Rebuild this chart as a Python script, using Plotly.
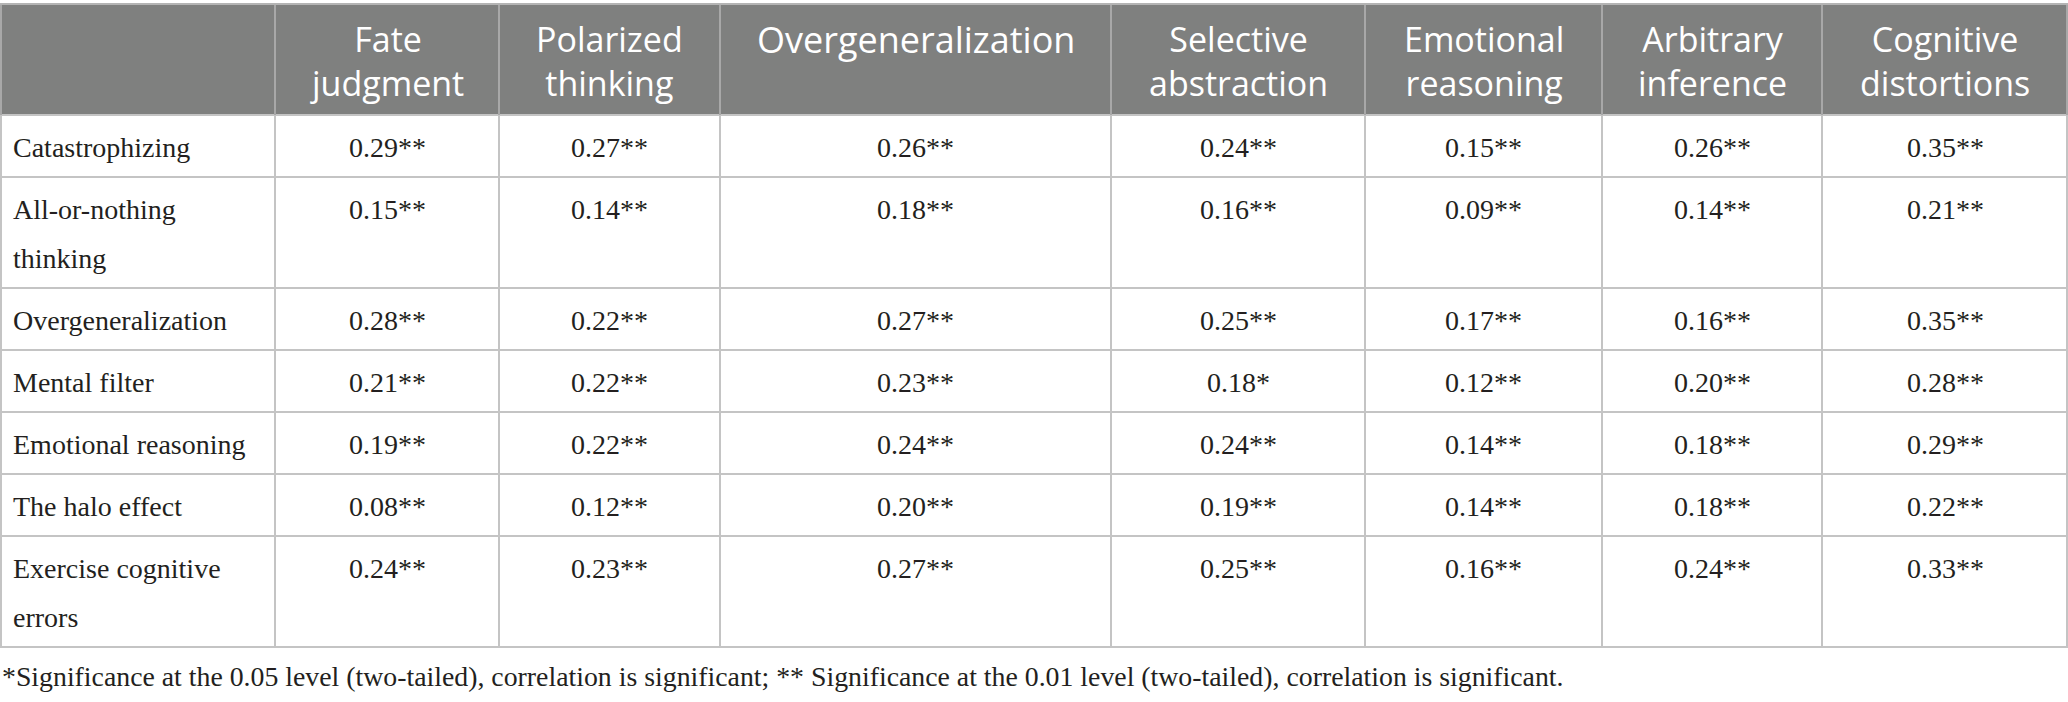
import plotly.graph_objects as go

# table content
columns = ["Fate<br>judgment", "Polarized<br>thinking", "Overgeneralization",
           "Selective<br>abstraction", "Emotional<br>reasoning",
           "Arbitrary<br>inference", "Cognitive<br>distortions"]
rows = ["Catastrophizing", "All-or-nothing<br>thinking", "Overgeneralization",
        "Mental filter", "Emotional reasoning", "The halo effect",
        "Exercise cognitive<br>errors"]

catastrophizing = [0.29, 0.27, 0.26, 0.24, 0.15, 0.26, 0.35]
all_or_nothing = [0.15, 0.14, 0.18, 0.16, 0.09, 0.14, 0.21]
overgeneralization = [0.28, 0.22, 0.27, 0.25, 0.17, 0.16, 0.35]
mental_filter = [0.21, 0.22, 0.23, 0.18, 0.12, 0.20, 0.28]
emotional_reasoning = [0.19, 0.22, 0.24, 0.24, 0.14, 0.18, 0.29]
halo_effect = [0.08, 0.12, 0.20, 0.19, 0.14, 0.18, 0.22]
exercise_errors = [0.24, 0.23, 0.27, 0.25, 0.16, 0.24, 0.33]
values = [catastrophizing, all_or_nothing, overgeneralization, mental_filter,
          emotional_reasoning, halo_effect, exercise_errors]

# significance stars ("**" unless noted)
stars = [["**"] * 7 for _ in rows]
stars[3][3] = "*"

footnote = ("*Significance at the 0.05 level (two-tailed), correlation is significant; "
            "** Significance at the 0.01 level (two-tailed), correlation is significant.")

# layout geometry (pixels)
W, H = 2068, 702
col_edges = [0, 275, 499, 720, 1111, 1365, 1602, 1822, 2068]
head_top, head_bot = 5, 115
row_h, line_h = 62, 49

BODY_FONT = "Liberation Serif"
HEAD_FONT = "Open Sans"
body_size, note_size = 28, 27.8
text_col = "#231f20"
grid = "#c4c4c4"

shapes = []
annotations = []

# header band
shapes.append(dict(type="rect", x0=0, x1=W, y0=head_top, y1=head_bot,
                   fillcolor="#7f807f", line=dict(width=0), layer="below"))
shapes.append(dict(type="line", x0=0, x1=W, y0=head_top - 1, y1=head_top - 1,
                   line=dict(color="#b4b4b4", width=2)))

for j, label in enumerate(columns):
    cx = (col_edges[j + 1] + col_edges[j + 2]) / 2
    two_line = "<br>" in label
    size = 34 if two_line else 36
    cy = 61 if two_line else 53 - 0.388 * size
    annotations.append(dict(x=cx, y=cy, text=label, align="center",
                            xanchor="center", yanchor="middle", showarrow=False,
                            font=dict(family=HEAD_FONT, size=size, color="white")))

# body rows
y = head_bot
row_edges = [y]
for i, label in enumerate(rows):
    lines = label.split("<br>")
    h = row_h + line_h * (len(lines) - 1)
    for k, part in enumerate(lines):
        base = y + 42 + k * line_h
        annotations.append(dict(x=11, y=base - 0.3375 * body_size, text=part,
                                xanchor="left", yanchor="middle", showarrow=False,
                                font=dict(family=BODY_FONT, size=body_size, color=text_col)))
    for j, v in enumerate(values[i]):
        cx = (col_edges[j + 1] + col_edges[j + 2]) / 2
        annotations.append(dict(x=cx, y=y + 42 - 0.3375 * body_size,
                                text=f"{v:.2f}{stars[i][j]}",
                                xanchor="center", yanchor="middle", showarrow=False,
                                font=dict(family=BODY_FONT, size=body_size, color=text_col)))
    y += h
    row_edges.append(y)

# grid lines
for ry in row_edges:
    shapes.append(dict(type="line", x0=0, x1=W, y0=ry, y1=ry,
                       line=dict(color=grid, width=2)))
for cx in col_edges:
    xx = min(max(cx, 1), W - 1)
    shapes.append(dict(type="line", x0=xx, x1=xx, y0=head_top, y1=head_bot,
                       line=dict(color="#a8a8a8", width=2)))
    shapes.append(dict(type="line", x0=xx, x1=xx, y0=head_bot, y1=row_edges[-1],
                       line=dict(color=grid, width=2)))

# footnote
annotations.append(dict(x=0, y=686 - 0.3375 * note_size, text=footnote,
                        xanchor="left", yanchor="middle", showarrow=False,
                        font=dict(family=BODY_FONT, size=note_size, color=text_col)))

fig = go.Figure()
fig.add_trace(go.Scatter(x=[0, W], y=[0, H], mode="markers",
                         marker=dict(opacity=0), hoverinfo="skip", showlegend=False))
fig.update_layout(
    width=W, height=H, margin=dict(l=0, r=0, t=0, b=0),
    paper_bgcolor="white", plot_bgcolor="white",
    xaxis=dict(range=[0, W], visible=False, fixedrange=True),
    yaxis=dict(range=[H, 0], visible=False, fixedrange=True),
    shapes=shapes, annotations=annotations, showlegend=False,
)

# drop the default page margin so the figure sits at the window's corner
fig.write_html("out.html", config={"displayModeBar": False},
               post_script="document.body.style.margin='0';document.body.style.overflow='hidden';")
